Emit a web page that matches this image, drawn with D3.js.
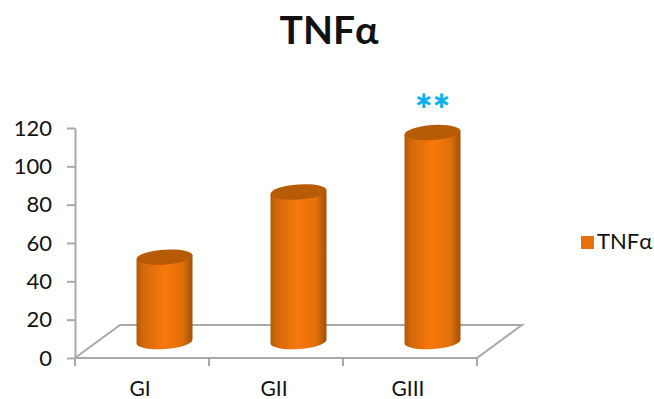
<!DOCTYPE html>
<html>
<head>
<meta charset="utf-8">
<script src="https://cdn.jsdelivr.net/npm/d3@7/dist/d3.min.js"></script>
<style>
  html, body { margin: 0; padding: 0; background: #fff; }
  svg { display: block; }
  text { font-family: Lato, "Open Sans", sans-serif; fill: #111; }
</style>
</head>
<body>
<svg id="chart" width="654" height="399"></svg>
<script>
const chartTitle = "TNFα";
const categories = ["GI", "GII", "GIII"];
const values = [44, 78, 109];
const marks = ["", "", "**"];
const yTicks = [0, 20, 40, 60, 80, 100, 120];

const svg = d3.select("#chart");
const gridGrey = "#a9a9a9";

// Front edge of the floor and the oblique offset to its back edge
const frontLeft = 75, frontRight = 477, baseY = 358, topY = 128;
const depthX = 45, depthY = 33;
const barWidth = 56, capRy = 7.5, capTilt = -4;

const x = d3.scaleBand().domain(categories).range([frontLeft, frontRight]);
const y = d3.scaleLinear().domain([0, 120]).range([baseY, topY]);

// Cylinder shading, dark at the rims and bright through the middle
const defs = svg.append("defs");
const body = defs.append("linearGradient").attr("id", "cylinderBody");
[[0, "#b35a08"], [0.12, "#d4690a"], [0.5, "#f8780c"], [0.82, "#e0700b"], [1, "#a05006"]]
  .forEach(([o, c]) => body.append("stop").attr("offset", o).attr("stop-color", c));

svg.append("text")
  .attr("x", 329).attr("y", 44)
  .attr("text-anchor", "middle")
  .attr("font-size", 39).attr("font-weight", 700)
  .text(chartTitle);

// Floor outline
svg.append("path")
  .attr("fill", "none")
  .attr("stroke", gridGrey)
  .attr("stroke-width", 2)
  .attr("d", d3.line()([
    [frontLeft, baseY],
    [frontLeft + depthX, baseY - depthY],
    [frontRight + depthX, baseY - depthY],
    [frontRight, baseY],
    [frontLeft, baseY]
  ]));

// Value axis
const yAxis = svg.append("g")
  .attr("transform", `translate(${frontLeft},0)`)
  .call(d3.axisLeft(y).tickValues(yTicks).tickSize(8).tickPadding(15).tickSizeOuter(0));
yAxis.selectAll("path, line").attr("stroke", gridGrey).attr("stroke-width", 2);
yAxis.selectAll("text").attr("font-size", 22).attr("font-family", "Lato, sans-serif").attr("fill", "#111");

// Category axis: ticks sit on band boundaries, labels under band centres
const xAxis = svg.append("g")
  .attr("transform", `translate(-2,${baseY})`)
  .call(d3.axisBottom(x).tickSize(0).tickPadding(23));
xAxis.select("path").remove();
xAxis.selectAll("text").attr("font-size", 21).attr("font-family", "Lato, sans-serif").attr("fill", "#111");
svg.append("g").selectAll("line")
  .data(d3.range(categories.length + 1))
  .join("line")
  .attr("x1", i => frontLeft + i * x.step())
  .attr("x2", i => frontLeft + i * x.step())
  .attr("y1", baseY)
  .attr("y2", baseY + 8)
  .attr("stroke", gridGrey)
  .attr("stroke-width", 2);

// Cylinders, standing halfway into the floor's depth
const bars = svg.append("g").selectAll("g")
  .data(categories.map((c, i) => ({ c, v: values[i], mark: marks[i] })))
  .join("g")
  .attr("transform", d => `translate(${x(d.c) + x.bandwidth() / 2 + depthX / 2},${-depthY / 2})`);

bars.append("path")
  .attr("fill", "url(#cylinderBody)")
  .attr("d", d => {
    const r = barWidth / 2, top = y(d.v), bottom = y(0);
    return `M${-r},${top + 2}L${-r},${bottom + 2}` +
      `A${r},${capRy} ${capTilt} 0 0 ${r},${bottom - 2}` +
      `L${r},${top - 2}Z`;
  });

bars.append("ellipse")
  .attr("rx", barWidth / 2).attr("ry", capRy)
  .attr("transform", d => `translate(0,${y(d.v)}) rotate(${capTilt})`)
  .attr("fill", "#b75c06");

bars.append("text")
  .attr("y", d => y(d.v) - 31)
  .attr("text-anchor", "middle")
  .attr("font-size", 42).attr("font-weight", 900)
  .attr("letter-spacing", 0)
  .style("fill", "#00b0f0")
  .attr("dy", "0.55em")
  .text(d => d.mark);

// Legend
const legend = svg.append("g").attr("transform", "translate(581,236)");
legend.append("rect").attr("width", 13).attr("height", 13).attr("fill", "#e8700c");
legend.append("text").attr("x", 16).attr("y", 13).attr("font-size", 22).text(chartTitle);
</script>
</body>
</html>
